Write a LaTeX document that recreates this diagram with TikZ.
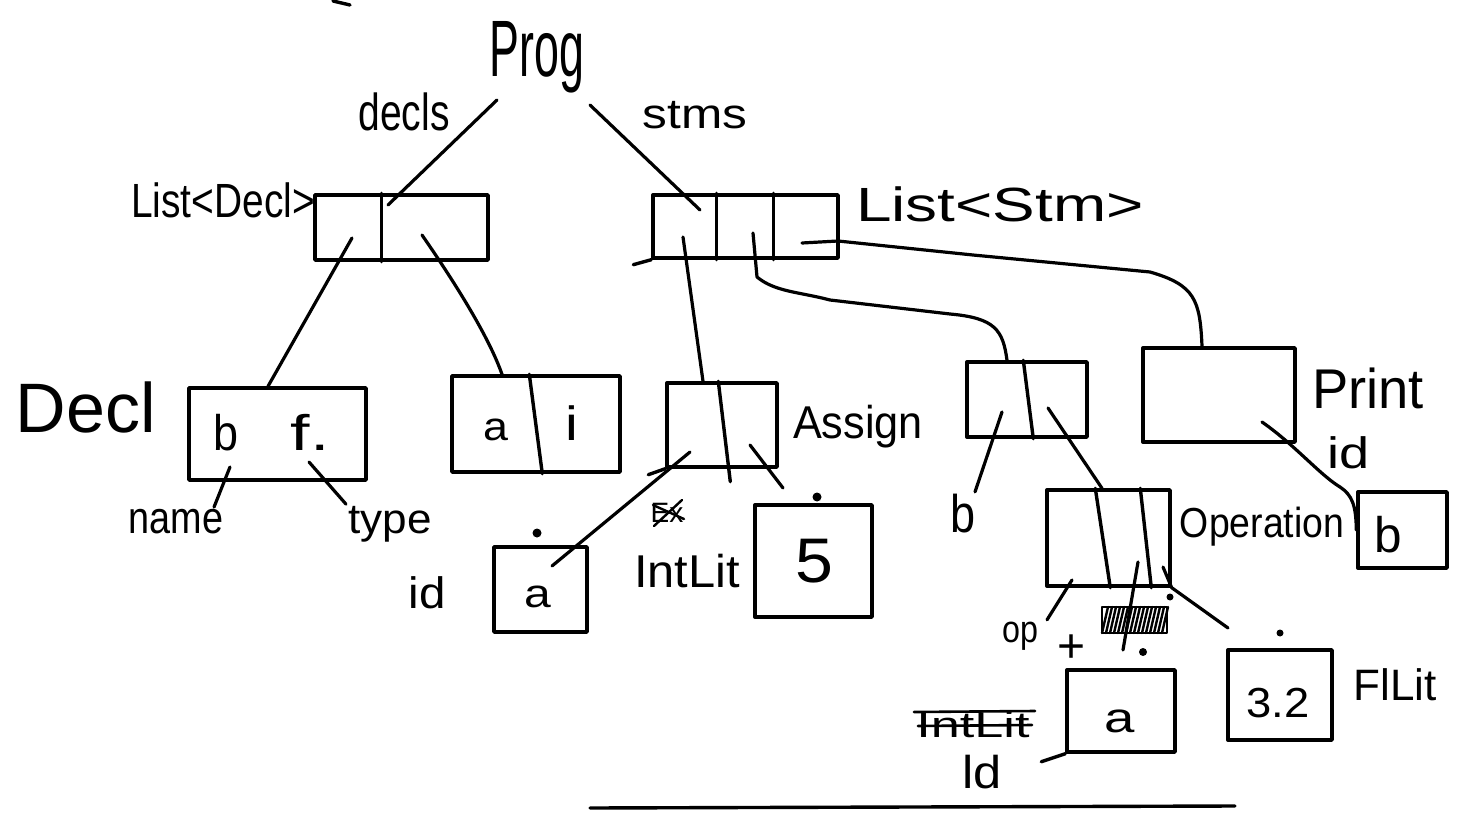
\documentclass[tikz,border=0pt]{standalone}
\usepackage{fontspec}
\usepackage{graphicx}
\setmainfont{Liberation Sans}
\newcommand{\hw}[3]{\fontsize{#1}{#1}\selectfont\scalebox{#2}[1]{#3}}
\tikzset{
  box/.style={draw, rectangle, inner sep=0pt, line width=3.4pt},
  lab/.style={inner sep=0pt, anchor=base},
  wire/.style={draw, line width=3.2pt, line cap=round, line join=round},
}
\begin{document}
\begin{tikzpicture}[x=1pt,y=-1pt,line width=3.4pt,line cap=round,line join=round]
\fill[white] (0,0) rectangle (1461,813);
\useasboundingbox (0,0) rectangle (1461,813);

% ---------- labels ----------
\node[lab] (prog) at (537,77) {\hw{80}{0.56}{Prog}};
\node[lab] (decls) at (404,131) {\hw{52}{0.75}{decls}};
\node[lab] (stms) at (695,129) {\hw{42}{1.18}{stms}};
\node[lab] (listdecl) at (223,218) {\hw{48}{0.81}{List<Decl>}};
\node[lab] (liststm) at (1000,222) {\hw{48}{1.33}{List<Stm>}};
\node[lab] (decl) at (86,432) {\hw{70}{1.0}{Decl}};
\node[lab] (name) at (176,533) {\hw{45}{0.84}{name}};
\node[lab] (type) at (390,533) {\hw{42}{1.05}{type}};
\node[lab] (idl) at (427,608) {\hw{44}{1.08}{id}};
\node[lab] (intlit) at (687,587) {\hw{46}{1.06}{IntLit}};
\node[lab] (assignl) at (858,438) {\hw{46}{0.94}{Assign}};
\node[lab] (bl) at (963,532) {\hw{53}{0.85}{b}};
\node[lab] (printl) at (1368,408) {\hw{56}{0.97}{Print}};
\node[lab] (idp) at (1349,468) {\hw{44}{1.23}{id}};
\node[lab] (operl) at (1262,537) {\hw{42}{0.89}{Operation}};
\node[lab] (opl) at (1020,642) {\hw{38}{0.85}{op}};
\node[lab] (plus) at (1072,662) {\hw{48}{1.0}{+}};
\node[lab, anchor=base west] (fllit) at (1352,700) {\hw{44}{1.0}{FlLit}};
\node[lab] (idb) at (982,788) {\hw{46}{1.1}{ld}};
% crossed-out words
\node[lab] (ex) at (667,522) {\hw{28}{1.0}{Ex}};
\draw[line width=2.4pt] (654,526) -- (682,500);
\draw[line width=2.4pt] (653,505) -- (684,519);
\node[lab] (intlitx) at (973,737) {\hw{36}{1.45}{IntLit}};
\draw[line width=2.6pt] (914,712) -- (1035,711);
\draw[line width=2.6pt] (918,726) -- (1032,725);

% ---------- boxes ----------
\node[box, minimum width=173pt, minimum height=65pt] (ld) at (401.5,227.5) {};
\draw ([xshift=68pt]ld.north west) -- ([xshift=68pt]ld.south west);

\node[box, minimum width=185pt, minimum height=63pt] (ls) at (745.5,226.5) {};
\draw ([xshift=65pt]ls.north west) -- ([xshift=65pt]ls.south west);
\draw ([xshift=122pt]ls.north west) -- ([xshift=122pt]ls.south west);
\draw (ls.south west) -- ++(-18,5);

\node[box, minimum width=177pt, minimum height=92pt] (decl1) at (277.5,434) {};
\node[lab] at (226,450) {\hw{50}{0.9}{b}};
\node[lab] at (310,450) {\hw{50}{1.4}{f.}};

\node[box, minimum width=168pt, minimum height=96pt] (decl2) at (536,424) {};
\draw ([xshift=79pt]decl2.north west) -- ([xshift=92pt]decl2.south west);
\node[lab] at (496,440) {\hw{40}{1.12}{a}};
\node[lab] at (572,440) {\hw{48}{1.2}{i}};

\node[box, minimum width=110pt, minimum height=84pt] (assign) at (722,425) {};
\draw ([xshift=53pt]assign.north west) -- ([xshift=65pt,yshift=-13pt]assign.south west);
\draw (assign.south west) -- ++(-17,6);

\node[box, minimum width=93pt, minimum height=85pt] (ida) at (540.5,589.5) {};
\node[lab] at (538,607) {\hw{40}{1.2}{a}};

\node[box, minimum width=117pt, minimum height=112pt] (int5) at (813.5,561) {};
\node[lab] at (814,582) {\hw{63}{1.08}{5}};

\node[box, minimum width=120pt, minimum height=75pt] (stm2) at (1027,399.5) {};
\draw ([xshift=58pt]stm2.north west) -- ([xshift=68pt]stm2.south west);

\node[box, minimum width=152pt, minimum height=94pt] (print) at (1219,395) {};

\node[box, minimum width=123pt, minimum height=96pt] (op) at (1108.5,538) {};
\draw ([xshift=50pt]op.north west) -- ([xshift=65pt]op.south west);
\draw ([xshift=95pt]op.north west) -- ([xshift=106pt]op.south west);

\node[box, minimum width=108pt, minimum height=82pt] (ida2) at (1121,711) {};
\node[lab] at (1120,732) {\hw{42}{1.3}{a}};
\draw (ida2.south west) -- ++(-24,8);

\node[box, minimum width=104pt, minimum height=90pt] (fl32) at (1280,695) {};
\node[lab] at (1278,717) {\hw{42}{1.08}{3.2}};

\node[box, minimum width=89pt, minimum height=76pt] (printb) at (1402.5,530) {};
\node[lab] at (1388,552) {\hw{50}{0.99}{b}};

% ---------- pointer coordinates ----------
\coordinate (pl) at (497,100);
\coordinate (pr) at (590,105);
\coordinate (ldin) at (388,205);
\coordinate (lsin) at (700,210);
\coordinate (ld1) at (352,238);
\coordinate (ld2) at (422,235);
\coordinate (ls1) at (683,237);
\coordinate (ls2) at (753,233);
\coordinate (ls3) at (802,243);
\coordinate (d1a) at (230,467);
\coordinate (d1b) at (309,462);
\coordinate (as1) at (690,452);
\coordinate (as2) at (750,445);
\coordinate (asend) at (783,488);
\coordinate (idain) at (552,566);
\coordinate (s21) at (1002,412);
\coordinate (s22) at (1048,408);
\coordinate (pr1) at (1262,422);
\coordinate (op1) at (1072,580);
\coordinate (op2) at (1138,562);
\coordinate (op3) at (1163,567);
\coordinate (opend2) at (1123,650);
\coordinate (opend3) at (1228,628);

% ---------- connectors ----------
\draw[wire] (pl) -- (ldin);
\draw[wire] (pr) -- (lsin);
\draw[wire] (ld1) -- (decl1.north -| 268,0);
\draw[wire] (ld2) .. controls (460,290) and (490,340) .. (decl2.north -| 502,0);
\draw[wire] (ls1) -- (assign.north -| 703,0);
\draw[wire] (ls2) -- (757,277) .. controls (775,292) and (800,292) .. (830,300)
  -- (950,314) .. controls (995,318) and (1003,330) .. (stm2.north -| 1007,0);
\draw[wire] (ls3) -- (838,241) -- (973,255) -- (1150,272)
  .. controls (1195,285) and (1200,300) .. (print.north -| 1202,0);
\draw[wire] (d1a) -- (name.north -| 214,0);
\draw[wire] (d1b) -- (type.north -| 346,0);
\draw[wire] (as1) -- (idain);
\draw[wire] (as2) -- (asend);
\draw[wire] (s21) -- (bl.north -| 975,0);
\draw[wire] (s22) -- (op.north -| 1102,0);
\draw[wire] (pr1) .. controls (1295,445) and (1320,475) .. (1340,487)
  .. controls (1352,495) and (1356,505) .. (printb.west);
\draw[wire] (op1) -- (opl.north -| 1047,0);
\draw[wire] (op2) -- (opend2);
\draw[wire] (op3) -- (op.south east) -- (opend3);

% ---------- scribble ----------
\draw[line width=2.4pt] (1102,607) rectangle (1167,633);
\foreach \i in {0,4,...,60} {
  \draw[line width=2.4pt] (1102+\i,633) -- (1108+\i,607);
}

% ---------- dots and marks ----------
\fill (537,533) circle (4.5pt);
\fill (817,497) circle (4.5pt);
\fill (1143,652) circle (4pt);
\fill (1280,633) circle (3.5pt);
\fill (1170,597) circle (3.5pt);
\draw (333,1) -- (350,5);
\draw (590,808) -- (1235,806);
\end{tikzpicture}
\end{document}
